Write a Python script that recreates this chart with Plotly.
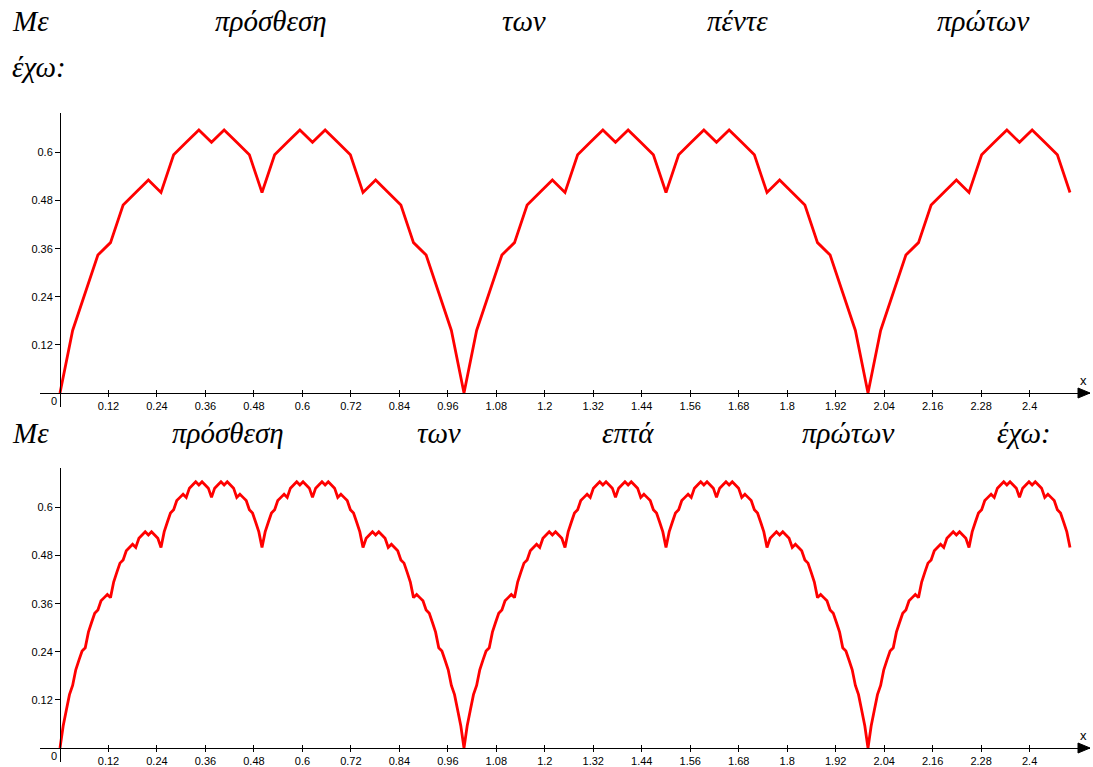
import plotly.graph_objects as go

# ---------------- data ----------------
X_STEP_5 = 0.03125      # spacing of the corner points of the 5-term curve
X_STEP_7 = 0.0078125    # spacing of the corner points of the 7-term curve

Y5 = [
    0, .156, .25, .344, .375, .469, .5, .531, .5, .594, .625, .656, .625, .656, .625, .594,
    .5, .594, .625, .656, .625, .656, .625, .594, .5, .531, .5, .469, .375, .344, .25, .156,
    0, .156, .25, .344, .375, .469, .5, .531, .5, .594, .625, .656, .625, .656, .625, .594,
    .5, .594, .625, .656, .625, .656, .625, .594, .5, .531, .5, .469, .375, .344, .25, .156,
    0, .156, .25, .344, .375, .469, .5, .531, .5, .594, .625, .656, .625, .656, .625, .594,
    .5,
]

Y7 = [
    0, .055, .094, .133, .156, .195, .219, .242, .25, .289, .313, .336, .344, .367, .375, .383,
    .375, .414, .438, .461, .469, .492, .5, .508, .5, .523, .531, .539, .531, .539, .531, .523,
    .5, .539, .563, .586, .594, .617, .625, .633, .625, .648, .656, .664, .656, .664, .656, .648,
    .625, .648, .656, .664, .656, .664, .656, .648, .625, .633, .625, .617, .594, .586, .563, .539,
    .5,
    .539, .563, .586, .594, .617, .625, .633, .625, .648, .656, .664, .656, .664, .656, .648, .625,
    .648, .656, .664, .656, .664, .656, .648, .625, .633, .625, .617, .594, .586, .563, .539, .5,
    .523, .531, .539, .531, .539, .531, .523, .5, .508, .5, .492, .469, .461, .438, .414, .375,
    .383, .375, .367, .344, .336, .313, .289, .25, .242, .219, .195, .156, .133, .094, .055,
    0, .055, .094, .133, .156, .195, .219, .242, .25, .289, .313, .336, .344, .367, .375, .383,
    .375, .414, .438, .461, .469, .492, .5, .508, .5, .523, .531, .539, .531, .539, .531, .523,
    .5, .539, .563, .586, .594, .617, .625, .633, .625, .648, .656, .664, .656, .664, .656, .648,
    .625, .648, .656, .664, .656, .664, .656, .648, .625, .633, .625, .617, .594, .586, .563, .539,
    .5,
    .539, .563, .586, .594, .617, .625, .633, .625, .648, .656, .664, .656, .664, .656, .648, .625,
    .648, .656, .664, .656, .664, .656, .648, .625, .633, .625, .617, .594, .586, .563, .539, .5,
    .523, .531, .539, .531, .539, .531, .523, .5, .508, .5, .492, .469, .461, .438, .414, .375,
    .383, .375, .367, .344, .336, .313, .289, .25, .242, .219, .195, .156, .133, .094, .055,
    0, .055, .094, .133, .156, .195, .219, .242, .25, .289, .313, .336, .344, .367, .375, .383,
    .375, .414, .438, .461, .469, .492, .5, .508, .5, .523, .531, .539, .531, .539, .531, .523,
    .5, .539, .563, .586, .594, .617, .625, .633, .625, .648, .656, .664, .656, .664, .656, .648,
    .625, .648, .656, .664, .656, .664, .656, .648, .625, .633, .625, .617, .594, .586, .563, .539,
    .5,
]

X_TICKS = [0.12, 0.24, 0.36, 0.48, 0.6, 0.72, 0.84, 0.96, 1.08, 1.2, 1.32, 1.44, 1.56,
           1.68, 1.8, 1.92, 2.04, 2.16, 2.28, 2.4]
X_TICK_TEXT = ["0.12", "0.24", "0.36", "0.48", "0.6", "0.72", "0.84", "0.96", "1.08", "1.2",
               "1.32", "1.44", "1.56", "1.68", "1.8", "1.92", "2.04", "2.16", "2.28", "2.4"]
Y_TICKS = [0.12, 0.24, 0.36, 0.48, 0.6]
Y_TICK_TEXT = ["0.12", "0.24", "0.36", "0.48", "0.6"]

TITLE1_LINE1 = ["Με", "πρόσθεση", "των", "πέντε", "πρώτων"]
TITLE1_LINE2 = ["έχω:"]
TITLE2_LINE1 = ["Με", "πρόσθεση", "των", "επτά", "πρώτων", "έχω:"]

# ---------------- layout (pixels) ----------------
W, H = 1093, 767
X0_PX = 60.0
X_SCALE = 404.0
X_LEFT_PX, X_RIGHT_PX = 40.0, 1090.0
Y_SCALE = 401.0
Y_BOTTOM, Y_TOP = -0.035, 0.699
PANEL_ZERO_PX = [393.0, 748.0]

xmin = (X_LEFT_PX - X0_PX) / X_SCALE
xmax = (X_RIGHT_PX - X0_PX) / X_SCALE

RED = "#ff0000"
TICK_FONT = dict(family="Liberation Sans, Arial, sans-serif", size=11, color="#000000")
TITLE_FONT = dict(family="Liberation Serif, Times New Roman, serif", size=29, color="#000000")

fig = go.Figure()
fig.add_trace(go.Scatter(y=Y5, x0=0, dx=X_STEP_5, mode="lines",
                         line=dict(color=RED, width=2.8), xaxis="x", yaxis="y",
                         hoverinfo="skip", showlegend=False))
fig.add_trace(go.Scatter(y=Y7, x0=0, dx=X_STEP_7, mode="lines",
                         line=dict(color=RED, width=2.8), xaxis="x2", yaxis="y2",
                         hoverinfo="skip", showlegend=False))

layout = dict(
    width=W, height=H,
    margin=dict(l=0, r=0, t=0, b=0, autoexpand=False),
    paper_bgcolor="white", plot_bgcolor="white",
    showlegend=False,
)

annotations = []
shapes = []
for i, zpx in enumerate(PANEL_ZERO_PX):
    sfx = "" if i == 0 else str(i + 1)
    ybot_px = zpx - Y_BOTTOM * Y_SCALE
    ytop_px = zpx - Y_TOP * Y_SCALE
    layout["xaxis" + sfx] = dict(
        domain=[X_LEFT_PX / W, X_RIGHT_PX / W], range=[xmin, xmax],
        anchor="free", position=1 - zpx / H,
        showline=True, linecolor="black", linewidth=1,
        ticks="outside", ticklen=3, tickcolor="black", tickwidth=1,
        tickvals=X_TICKS, ticktext=X_TICK_TEXT, tickfont=TICK_FONT,
        minor=dict(ticks="inside", ticklen=3, tickcolor="black", tickwidth=1,
                   tickvals=X_TICKS, showgrid=False),
        showgrid=False, zeroline=False, fixedrange=True,
    )
    layout["yaxis" + sfx] = dict(
        domain=[1 - ybot_px / H, 1 - ytop_px / H], range=[Y_BOTTOM, Y_TOP],
        anchor="free", position=X0_PX / W,
        showline=True, linecolor="black", linewidth=1,
        ticks="outside", ticklen=5, tickcolor="black", tickwidth=1,
        tickvals=Y_TICKS, ticktext=Y_TICK_TEXT, tickfont=TICK_FONT,
        showgrid=False, zeroline=False, fixedrange=True,
    )
    xr = "x" + sfx
    yr = "y" + sfx
    # origin label
    annotations.append(dict(x=0, y=0, xref=xr, yref=yr, text="0", showarrow=False,
                            xanchor="right", yanchor="top", xshift=-1, yshift=0,
                            font=TICK_FONT))
    # axis name
    annotations.append(dict(x=xmax, y=0, xref=xr, yref=yr, text="x", showarrow=False,
                            xanchor="right", yanchor="bottom", xshift=-1, yshift=3,
                            font=dict(family="Liberation Sans, Arial, sans-serif", size=13,
                                      color="black")))
    # arrow head at the end of the x axis
    shapes.append(dict(type="path", xref=xr, yref=yr,
                       xsizemode="pixel", ysizemode="pixel", xanchor=xmax, yanchor=0,
                       path="M 0 0 L -12 5 L -12 -5 Z",
                       fillcolor="black", line=dict(color="black", width=1)))

# titles: words spread across the width (left x in px, y centre in px)
title_rows = [
    (TITLE1_LINE1, [10, 213, 500, 705, 935], 21),
    (TITLE1_LINE2, [10], 67),
    (TITLE2_LINE1, [10, 170, 415, 600, 800, 995], 433),
]
for words, xs, ypx in title_rows:
    for w, xpx in zip(words, xs):
        annotations.append(dict(x=xpx / W, y=1 - ypx / H, xref="paper", yref="paper",
                                text="<i>" + w + "</i>", showarrow=False,
                                xanchor="left", yanchor="middle", font=TITLE_FONT))

layout["annotations"] = annotations
layout["shapes"] = shapes
fig.update_layout(**layout)

fig.write_html("out.html",
               config={"displayModeBar": False},
               post_script="document.body.style.margin='0px';"
                           "document.body.style.overflow='hidden';")
